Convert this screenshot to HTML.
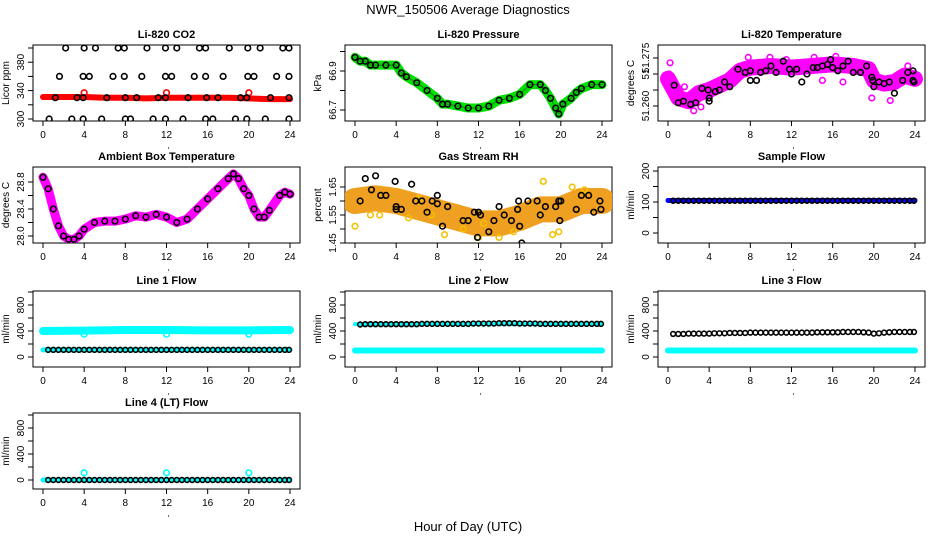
<!DOCTYPE html>
<html><head><meta charset="utf-8"><style>
html,body{margin:0;padding:0;background:#fff}
svg{display:block;font-family:"Liberation Sans",sans-serif}
</style></head><body>
<svg id="c" width="936" height="540" viewBox="0 0 936 540">
<text x="468" y="14" font-size="13" text-anchor="middle">NWR_150506  Average Diagnostics</text>
<text x="468" y="531" font-size="13" text-anchor="middle">Hour of Day (UTC)</text>
</svg>
<script>
// ---- data ----
const xTicks=[0,4,8,12,16,20,24];
const co2BandT=[0,2,4,6,8,10,12,14,16,18,20,22,24];
const co2BandV=[331,331,331,330,330,329,330,330,330,330,329,328,328];
const co2DotT=[2.2,4,5.1,7.3,7.9,10.1,11.9,13,15.2,15.8,18.1,19.9,21.1,23.3,23.9,1.6,3.9,4.5,6.8,7.9,9.6,11.9,12.5,14.7,15.8,17.5,19.9,20.5,22.7,23.9,1.2,3.3,3.9,6.2,8,9.1,11.2,11.9,14.1,15.9,17,19.2,19.8,22.1,23.9,0.6,2.8,3.9,5.7,8,8.5,10.7,11.9,13.6,15.8,16.5,18.7,19.8,21.6,23.9];
const co2DotV=[400,400,400,400,400,400,400,400,400,400,400,400,400,400,400,360,360,360,360,360,360,360,360,360,360,360,360,360,360,360,330,330,330,330,330,330,330,330,330,330,330,330,330,330,330,300,300,300,300,300,300,300,300,300,300,300,300,300,300,300];
const co2RedT=[4,12,20];
const co2RedV=[337,337,337];
const presT=[0,0.5,1,1.5,2,3,4,4.5,5,6,7,8,8.5,9,10,11,12,13,14,15,16,17,18,18.5,19,19.5,19.8,20.2,21,21.5,22,23,24];
const presV=[66.97,66.95,66.95,66.93,66.93,66.93,66.93,66.89,66.87,66.84,66.80,66.76,66.73,66.73,66.72,66.71,66.71,66.72,66.75,66.76,66.78,66.83,66.83,66.80,66.76,66.71,66.68,66.73,66.76,66.79,66.81,66.83,66.83];
const ltBandT=[0,1,2,3,4,5,6,7,8,10,12,14,16,18,19.5,20,21,22,23,24];
const ltBandV=[51.2685,51.2625,51.2615,51.264,51.265,51.2665,51.268,51.271,51.272,51.2725,51.272,51.2725,51.273,51.2725,51.2715,51.268,51.267,51.2675,51.2695,51.2685];
const ltDotT=[0.6,1,1.5,2.2,2.7,3.3,3.9,4,4,4.6,5,5.5,6,6.8,7.5,8,8,8.6,9,9.5,10,10.5,11.2,11.8,12,12.5,13,13.5,14.1,14.5,15,15.5,15.8,16,16.5,17,17.5,18,18.7,19.3,19.8,19.9,20,20.5,21,21.5,22,22.8,23.3,23.8,23.8,23.9];
const ltDotV=[51.2665,51.261,51.2615,51.2605,51.261,51.2655,51.265,51.2625,51.2615,51.2645,51.265,51.2675,51.266,51.2715,51.2705,51.271,51.268,51.268,51.2705,51.271,51.2725,51.2705,51.274,51.2715,51.270,51.2715,51.2675,51.270,51.272,51.272,51.2725,51.273,51.2745,51.272,51.271,51.2725,51.274,51.2705,51.2705,51.2725,51.269,51.268,51.266,51.2675,51.267,51.2675,51.264,51.268,51.2705,51.271,51.268,51.2675];
const ltMagT=[0.2,0.1,1.6,2.5,3.2,2.4,7.8,9.9,15,16.3,17,19.8,21.6,23.3,11.5,14.2];
const ltMagV=[51.2735,51.270,51.266,51.2585,51.2597,51.2635,51.2752,51.2752,51.268,51.2755,51.2675,51.2625,51.2617,51.2725,51.2745,51.2752];
const ambT=[0,0.5,1,1.5,2,2.5,3,3.5,4,5,6,7,8,9,10,11,12,13,14,15,16,17,18,18.5,19,19.5,20,20.5,21,21.5,22,23,23.5,24];
const ambV=[28.87,28.7,28.4,28.15,28.0,27.95,27.95,28.0,28.1,28.2,28.22,28.22,28.25,28.3,28.28,28.32,28.28,28.2,28.25,28.4,28.55,28.7,28.85,28.92,28.85,28.7,28.6,28.4,28.28,28.28,28.38,28.6,28.65,28.62];
const rhBandT=[0,2,4,6,8,10,12,14,16,18,20,22,24];
const rhBandV=[1.6,1.61,1.6,1.58,1.56,1.54,1.52,1.52,1.54,1.57,1.57,1.6,1.6];
const rhDotT=[0.5,1,1.6,2,2.5,3,3.9,4,4,4.5,5.5,5.9,6.5,7,7.5,8,8,8.5,9,10.5,11,11.6,11.9,12,12.2,13,13.5,14,14.5,15.2,15.8,15.9,16,16.2,16.8,17.7,18,18.5,19.5,19.8,19.9,20,21.5,22,22.7,23.2,23.8,23.9];
const rhDotV=[1.6,1.68,1.64,1.69,1.62,1.62,1.67,1.57,1.58,1.57,1.66,1.6,1.6,1.56,1.6,1.62,1.59,1.51,1.58,1.53,1.53,1.56,1.47,1.56,1.55,1.49,1.53,1.58,1.55,1.53,1.57,1.6,1.51,1.45,1.6,1.6,1.55,1.58,1.58,1.6,1.53,1.6,1.57,1.62,1.62,1.56,1.6,1.57];
const rhOrT=[0,1.5,2.4,5.2,6.2,7.4,8.7,10.5,12,12.5,14,15.4,18.3,19.2,19.8,21.1,22.3];
const rhOrV=[1.51,1.55,1.55,1.54,1.61,1.55,1.48,1.5,1.47,1.52,1.47,1.49,1.67,1.48,1.49,1.65,1.64];
const flowT=[0.5,1,1.5,2,2.5,3,3.5,4,4.5,5,5.5,6,6.5,7,7.5,8,8.5,9,9.5,10,10.5,11,11.5,12,12.5,13,13.5,14,14.5,15,15.5,16,16.5,17,17.5,18,18.5,19,19.5,20,20.5,21,21.5,22,22.5,23,23.5,23.9];
const sampleV=[104,104,104,104,104,104,104,104,104,104,104,104,104,104,104,104,104,104,104,104,104,104,104,104,104,104,104,104,104,104,104,104,104,104,104,104,104,104,104,104,104,104,104,104,104,104,104,104];
const bandT=[0,4,8,12,16,20,24];
const sampleBand=[105,105,105,105,105,105,105];
const l1Cyan=[400,405,415,415,410,410,415];
const l1Low=[110,110,110,110,110,110,110];
const l1Black=[110,110,110,110,110,110,110,110,110,110,110,110,110,110,110,110,110,110,110,110,110,110,110,110,110,110,110,110,110,110,110,110,110,110,110,110,110,110,110,110,110,110,110,110,110,110,110,110];
const l1DipT=[4,12,20];
const l1DipV=[350,350,350];
const l2Cyan=[100,100,100,100,100,100,100];
const l2Black=[500,505,505,505,505,505,505,505,505,505,505,505,510,510,510,510,510,510,510,510,510,510,515,515,515,515,515,520,520,520,520,515,515,515,515,510,510,510,510,510,510,510,510,510,510,510,510,510];
const l2CyanTop=[505,500,505,505,505,505,505];
const l3Cyan=[100,100,100,100,100,100,100];
const l3Black=[355,355,355,360,360,360,360,360,365,365,365,370,370,370,370,375,375,375,375,375,375,375,375,375,375,375,375,375,380,380,380,380,380,385,385,385,385,380,375,360,365,375,380,385,385,385,385,385];
const l4Band=[0,0,0,0,0,0,0];
const l4Black=[0,0,0,0,0,0,0,0,0,0,0,0,0,0,0,0,0,0,0,0,0,0,0,0,0,0,0,0,0,0,0,0,0,0,0,0,0,0,0,0,0,0,0,0,0,0,0,0];
const l4CyT=[4,12,20];
const l4CyV=[110,110,110];

// ---- drawing ----
const NS='http://www.w3.org/2000/svg';
const svg=document.getElementById('c');
const colX0=[43,355,668], rowTop=[45,167,291,413], H=76, XS=247/24;
function mk(tag,attrs,parent){const e=document.createElementNS(NS,tag);for(const k in attrs)e.setAttribute(k,attrs[k]);(parent||svg).appendChild(e);return e;}
function panel(name,col,row,title,ylab,vA,pA,vB,pB,ticks,labels){
  const g=mk('g',{});
  
  
  const x0=colX0[col], top=rowTop[row], bot=top+H, left=x0-10, right=x0+257;
  const fx=t=>x0+t*XS;
  const fy=v=>pA+(v-vA)*(pB-pA)/(vB-vA);
  const box=mk('rect',{x:left,y:top,width:right-left,height:H,fill:'none',stroke:'#000','stroke-width':1},g);
  
  
  const tt=mk('text',{x:(left+right)/2,y:top-7,'font-size':11,'font-weight':'bold','text-anchor':'middle'},g);tt.textContent=title;
  
  
  const xa=mk('g',{},g);
  
  
  xTicks.forEach(t=>{mk('line',{x1:fx(t),x2:fx(t),y1:bot,y2:bot+5,stroke:'#000'},xa);
    const l=mk('text',{x:fx(t),y:bot+17,'font-size':10,'text-anchor':'middle'},xa);l.textContent=t;});
  mk('circle',{cx:fx(12)+2,cy:bot+27,r:0.6,fill:'#000'},xa);
  const ya=mk('g',{},g);
  
  
  ticks.forEach(v=>{mk('line',{x1:left-5,x2:left,y1:fy(v),y2:fy(v),stroke:'#000'},ya);});
  labels.forEach(([v,s])=>{const y=fy(v);const l=mk('text',{x:left-9,y:y,'font-size':10,'text-anchor':'middle',transform:`rotate(-90 ${left-9} ${y})`},ya);l.textContent=s;});
  const yl=mk('text',{x:left-24,y:(top+bot)/2,'font-size':10,'text-anchor':'middle',transform:`rotate(-90 ${left-24} ${(top+bot)/2})`},g);yl.textContent=ylab;
  
  
  const clip='clip-'+name;
  const cp=mk('clipPath',{id:clip},g);mk('rect',{x:left,y:top,width:right-left,height:H},cp);
  const data=mk('g',{'clip-path':`url(#${clip})`},g);
  return {
    band(T,V,color,w,nm){const p=mk('polyline',{points:T.map((t,i)=>fx(t)+','+fy(V[i])).join(' '),fill:'none',stroke:color,'stroke-width':w,'stroke-linejoin':'round','stroke-linecap':'round'},data);
      
      },
    dots(T,V,color,nm,r){const dg=mk('g',{},data);
      
      
      T.forEach((t,i)=>mk('circle',{cx:fx(t),cy:fy(V[i]),r:r||2.8,fill:'none',stroke:color,'stroke-width':1.6},dg));}
  };
}
function rng(a,b,s){const r=[];for(let v=a;v<=b+1e-9;v+=s)r.push(+v.toFixed(4));return r;}

let p=panel('co2',0,0,'Li-820 CO2','Licor ppm',300,119,400,48,rng(300,400,20),[[300,'300'],[340,'340'],[380,'380']]);
p.band(co2BandT,co2BandV,'#ff0000',6,'co2-band');p.dots(co2RedT,co2RedV,'#ff0000','co2-red-points');p.dots(co2DotT,co2DotV,'#000','co2-average-points');

p=panel('pressure',1,0,'Li-820 Pressure','kPa',66.7,110,66.9,71,[66.7,66.8,66.9,67.0],[[66.7,'66.7'],[66.9,'66.9']]);
p.band(presT,presV,'#00e000',9,'pressure-band');p.band(presT,presV,'#1a7a1a',1,'pressure-band-core');p.dots(presT,presV,'#000','pressure-average-points');

p=panel('li820-temp',2,0,'Li-820 Temperature','degrees C',51.26,106,51.275,58,[51.26,51.265,51.27,51.275],[[51.26,'51.260'],[51.27,'51'],[51.275,'51.275']]);
p.band(ltBandT,ltBandV,'#ff00ff',16,'li820-temp-band');p.dots(ltMagT,ltMagV,'#ff00ff','li820-temp-outliers');p.dots(ltDotT,ltDotV,'#000','li820-temp-average-points');

p=panel('ambient',0,1,'Ambient Box Temperature','degrees C',28.0,236,28.8,182,[28.0,28.2,28.4,28.6,28.8],[[28.0,'28.0'],[28.4,'28.4'],[28.8,'28.8']]);
p.band(ambT,ambV,'#ff00ff',9,'ambient-band');p.dots(ambT,ambV,'#000','ambient-average-points');

p=panel('rh',1,1,'Gas Stream RH','percent',1.45,243,1.65,187,[1.45,1.5,1.55,1.6,1.65],[[1.45,'1.45'],[1.55,'1.55'],[1.65,'1.65']]);
p.band(rhBandT,rhBandV,'#f0a020',26,'rh-band');p.dots(rhOrT,rhOrV,'#f5c000','rh-outliers');p.dots(rhDotT,rhDotV,'#000','rh-average-points');

p=panel('sample-flow',2,1,'Sample Flow','ml/min',0,233,200,171,[0,50,100,150,200],[[0,'0'],[100,'100'],[200,'200']]);
p.band(bandT,sampleBand,'#0000ff',5,'sample-flow-band');p.dots(flowT,sampleV,'#000','sample-flow-average-points',2.4);

const fT=rng(0,1000,200), fL=[[0,'0'],[400,'400'],[800,'800']];
p=panel('line1-flow',0,2,'Line 1 Flow','ml/min',0,357,800,305,fT,fL);
p.band(bandT,l1Cyan,'#00ffff',8,'line1-flow-cyan-band');p.band(bandT,l1Low,'#00ffff',5,'line1-flow-cyan-low');p.dots(l1DipT,l1DipV,'#00ffff','line1-flow-dips');p.dots(flowT,l1Black,'#000','line1-flow-average-points',2.4);

p=panel('line2-flow',1,2,'Line 2 Flow','ml/min',0,357,800,305,fT,fL);
p.band(bandT,l2Cyan,'#00ffff',6,'line2-flow-cyan-band');p.band(bandT,l2CyanTop,'#00ffff',4,'line2-flow-cyan-top');p.dots(flowT,l2Black,'#000','line2-flow-average-points',2.4);

p=panel('line3-flow',2,2,'Line 3 Flow','ml/min',0,357,800,305,fT,fL);
p.band(bandT,l3Cyan,'#00ffff',6,'line3-flow-cyan-band');p.dots(flowT,l3Black,'#000','line3-flow-average-points',2.4);

p=panel('line4-flow',0,3,'Line 4 (LT) Flow','ml/min',0,480,800,428,fT,fL);
p.band(bandT,l4Band,'#00ffff',5,'line4-flow-cyan-band');p.dots(l4CyT,l4CyV,'#00ffff','line4-flow-spikes');p.dots(flowT,l4Black,'#000','line4-flow-average-points',2.4);
</script>
</body></html>
